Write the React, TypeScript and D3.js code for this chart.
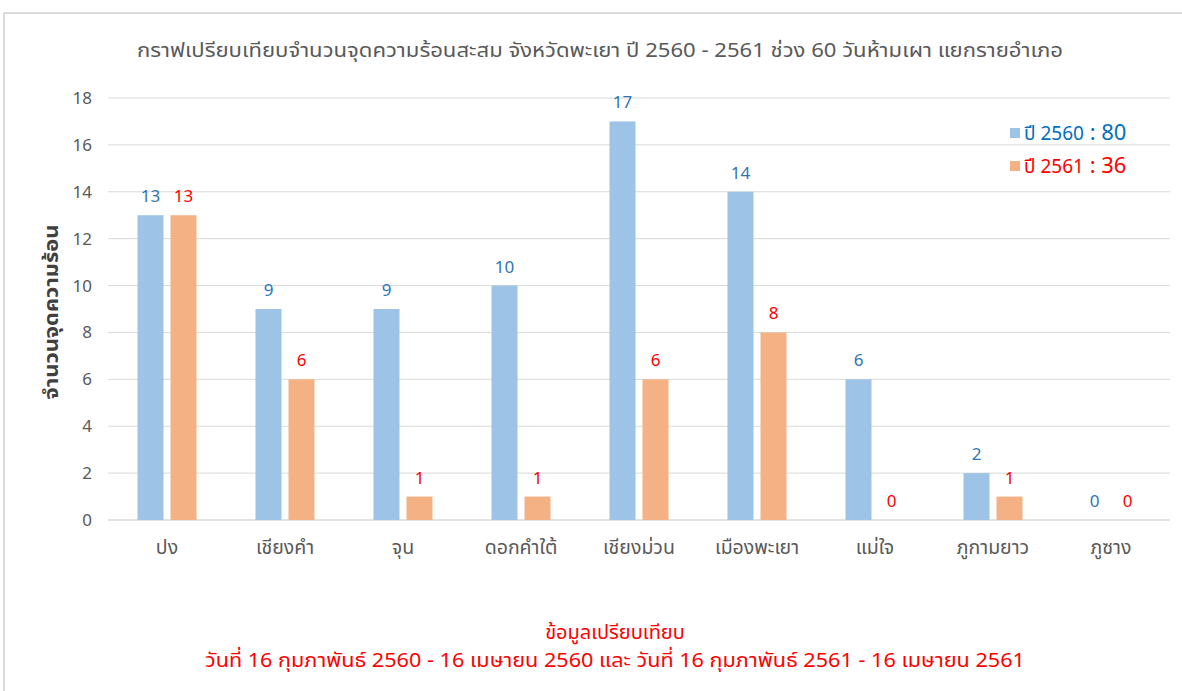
import React from 'react';
import * as d3 from 'd3';

const districts = ['ปง', 'เชียงคำ', 'จุน', 'ดอกคำใต้', 'เชียงม่วน', 'เมืองพะเยา', 'แม่ใจ', 'ภูกามยาว', 'ภูซาง'];
const values2560 = [13, 9, 9, 10, 17, 14, 6, 2, 0];
const values2561 = [13, 6, 1, 1, 6, 8, 0, 1, 0];
const yTicks = [0, 2, 4, 6, 8, 10, 12, 14, 16, 18];

const series = [
  { key: 'ปี 2560', total: '80', values: values2560, fill: '#9dc3e6', text: '#2e75b6', legend: '#0070c0' },
  { key: 'ปี 2561', total: '36', values: values2561, fill: '#f4b183', text: '#ff0000', legend: '#ff0000' },
];

const W = 1182;
const H = 691;
const margin = { top: 98, right: 12, bottom: 171, left: 108 };
const innerW = W - margin.left - margin.right;
const innerH = H - margin.top - margin.bottom;
const font = "'Noto Sans Thai', 'Noto Sans', Tahoma, sans-serif";

export default function App() {
  const x = d3.scaleBand<string>().domain(districts).range([0, innerW]);
  const y = d3.scaleLinear().domain([0, 18]).range([innerH, 0]);
  const barW = 26;
  const gap = 7;

  return (
    <svg width={W} height={H} style={{ position: 'absolute', left: 0, top: 0, background: '#fff' }} fontFamily={font}>
      {/* chart frame */}
      <line x1={4} y1={13} x2={W} y2={13} stroke="#d9d9d9" strokeWidth={2} />
      <line x1={4} y1={13} x2={4} y2={H} stroke="#d9d9d9" strokeWidth={2} />

      <text x={600} y={57} textAnchor="middle" fontSize={20} fill="#595959" textLength={926} lengthAdjust="spacingAndGlyphs">
        กราฟเปรียบเทียบจำนวนจุดความร้อนสะสม จังหวัดพะเยา ปี 2560 - 2561 ช่วง 60 วันห้ามเผา แยกรายอำเภอ
      </text>

      <g transform={`translate(${margin.left},${margin.top})`}>
        {yTicks.map((t) => (
          <g key={t}>
            <line x1={0} x2={innerW} y1={y(t)} y2={y(t)} stroke="#d9d9d9" strokeWidth={t === 0 ? 1.5 : 1} />
            <text x={-16} y={y(t)} dy="0.35em" textAnchor="end" fontSize={17} fill="#595959">{t}</text>
          </g>
        ))}

        {districts.map((d, i) => {
          const cx = (x(d) || 0) + x.bandwidth() / 2;
          return (
            <g key={d}>
              {series.map((s, j) => {
                const v = s.values[i];
                const bx = j === 0 ? cx - gap / 2 - barW : cx + gap / 2;
                return (
                  <g key={s.key}>
                    {v > 0 && <rect x={bx} y={y(v)} width={barW} height={innerH - y(v)} fill={s.fill} />}
                    <text x={bx + barW / 2} y={y(v) - 13} textAnchor="middle" fontSize={17} fill={s.text}>{v}</text>
                  </g>
                );
              })}
              <text x={cx} y={innerH + 34} textAnchor="middle" fontSize={19.5} fill="#595959">{d}</text>
            </g>
          );
        })}
      </g>

      <text transform="translate(58,312) rotate(-90)" textAnchor="middle" fontSize={19} fontWeight="bold" fill="#404040"
        textLength={175} lengthAdjust="spacingAndGlyphs">
        จำนวนจุดความร้อน
      </text>

      {series.map((s, j) => (
        <g key={s.key} transform={`translate(1010,${128 + j * 33})`}>
          <rect x={0} y={0} width={10} height={10} fill={s.fill} />
          <text x={14} y={12} fontSize={19} fill={s.legend}>
            {s.key}
            <tspan fontSize={22}> : {s.total}</tspan>
          </text>
        </g>
      ))}

      <text x={615} y={639} textAnchor="middle" fontSize={20} fill="#ff0000">ข้อมูลเปรียบเทียบ</text>
      <text x={615} y={667} textAnchor="middle" fontSize={20} fill="#ff0000" textLength={820} lengthAdjust="spacingAndGlyphs">
        วันที่ 16 กุมภาพันธ์ 2560 - 16 เมษายน 2560 และ วันที่ 16 กุมภาพันธ์ 2561 - 16 เมษายน 2561
      </text>
    </svg>
  );
}
